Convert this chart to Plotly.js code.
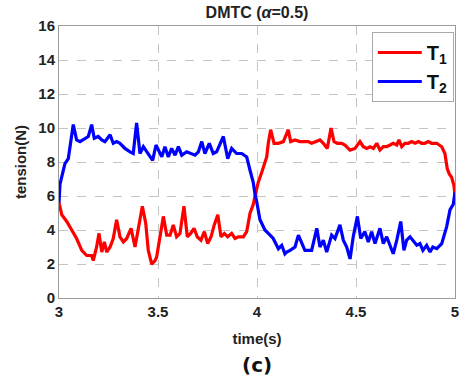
<!DOCTYPE html>
<html>
<head>
<meta charset="utf-8">
<script src="https://cdn.plot.ly/plotly-3.0.1.min.js"></script>
<style>html,body{margin:0;padding:0;background:#fff;}#chart{width:464px;height:376px;}</style>
</head>
<body>
<div id="chart"></div>
<script>
// T1 (red)
const t1Time = [3.000,3.014,3.039,3.064,3.089,3.115,3.140,3.165,3.173,3.190,3.202,3.216,3.229,3.241,3.258,3.274,3.291,3.308,3.325,3.342,3.364,3.384,3.404,3.421,3.438,3.451,3.468,3.485,3.493,3.510,3.527,3.544,3.561,3.577,3.594,3.611,3.631,3.648,3.665,3.682,3.698,3.717,3.734,3.751,3.768,3.784,3.802,3.818,3.835,3.852,3.872,3.889,3.906,3.931,3.948,3.965,3.981,3.990,4.006,4.024,4.049,4.057,4.069,4.086,4.108,4.133,4.158,4.170,4.192,4.217,4.242,4.259,4.276,4.302,4.318,4.335,4.355,4.374,4.389,4.406,4.428,4.444,4.470,4.495,4.520,4.537,4.554,4.571,4.588,4.605,4.621,4.638,4.655,4.672,4.688,4.706,4.717,4.731,4.747,4.764,4.781,4.798,4.815,4.832,4.848,4.865,4.882,4.908,4.933,4.949,4.961,4.971,4.983,4.995,5.000];
const t1Vals = [5.6,4.9,4.5,4.0,3.5,2.8,2.5,2.5,2.2,3.0,3.8,2.7,3.3,2.7,3.0,3.5,4.6,3.6,3.3,3.5,4.1,3.0,4.4,5.4,4.4,2.8,2.0,2.2,2.4,3.6,4.8,3.7,3.7,4.3,3.6,3.8,5.4,3.6,3.8,4.1,3.6,3.4,3.9,3.2,3.6,4.3,4.9,3.6,3.8,3.6,3.8,3.5,3.6,3.6,3.9,5.0,5.5,6.0,6.8,7.4,8.3,9.1,9.9,9.1,9.1,9.2,9.9,9.2,9.3,9.2,9.2,9.2,9.1,9.2,9.3,9.1,8.8,10.0,9.2,9.1,9.1,9.0,8.7,8.8,9.2,8.9,8.8,8.9,8.8,9.1,8.7,8.9,8.9,9.0,9.1,9.0,9.3,8.9,9.1,9.1,9.2,9.1,9.2,9.1,9.1,9.2,9.1,9.1,8.9,8.5,7.6,7.3,7.1,6.6,6.0];
// T2 (blue)
const t2Time = [3.000,3.005,3.030,3.047,3.072,3.089,3.106,3.131,3.148,3.165,3.178,3.198,3.216,3.232,3.258,3.274,3.291,3.308,3.333,3.359,3.375,3.392,3.409,3.426,3.451,3.473,3.490,3.519,3.535,3.552,3.569,3.586,3.603,3.620,3.645,3.662,3.687,3.704,3.721,3.737,3.759,3.779,3.796,3.830,3.852,3.872,3.897,3.923,3.948,3.965,3.981,3.990,3.998,4.015,4.040,4.066,4.082,4.108,4.125,4.141,4.150,4.167,4.192,4.209,4.226,4.242,4.276,4.302,4.318,4.335,4.352,4.377,4.394,4.419,4.436,4.453,4.470,4.486,4.507,4.524,4.545,4.562,4.579,4.596,4.621,4.638,4.655,4.672,4.688,4.706,4.726,4.742,4.756,4.773,4.788,4.807,4.823,4.838,4.857,4.874,4.888,4.908,4.933,4.958,4.975,4.991,5.000];
const t2Vals = [5.6,6.7,7.9,8.2,10.2,9.3,9.2,9.4,9.5,10.2,9.4,9.5,9.3,9.2,9.6,9.1,9.2,9.1,8.8,8.6,8.5,10.3,8.5,8.9,8.5,8.1,9.0,8.3,8.9,8.3,8.8,8.4,8.9,8.4,8.6,8.5,8.4,8.6,9.2,8.5,9.1,8.5,8.6,9.5,8.2,8.8,8.5,8.5,8.3,7.5,6.8,6.1,5.7,4.6,4.0,3.7,3.5,2.9,3.1,2.6,2.7,2.8,3.0,3.7,3.2,2.8,2.8,4.1,3.0,3.4,2.7,3.7,3.5,4.3,3.4,3.0,2.3,3.6,4.8,3.5,3.9,3.3,3.9,3.2,4.1,3.2,3.6,3.1,2.6,3.4,4.5,2.8,3.4,3.6,3.4,3.1,3.2,2.8,3.1,2.7,3.0,2.9,3.2,4.2,5.2,5.5,6.2];
const seriesNames = ['T<sub>1</sub>','T<sub>2</sub>'];
const xTicks = [3,3.5,4,4.5,5];
const xTickText = ['3','3.5','4','4.5','5'];
const yTicks = [0,2,4,6,8,10,12,14,16];

const FONT = 'Liberation Sans, Arial, sans-serif';
const traces = [
  {x:t1Time, y:t1Vals, name:seriesNames[0], type:'scatter', mode:'lines', line:{color:'#ff0000', width:3.2}},
  {x:t2Time, y:t2Vals, name:seriesNames[1], type:'scatter', mode:'lines', line:{color:'#0000ff', width:3.2}}
];
const axisCommon = {
  showline:true, mirror:true, linecolor:'#9a9a9a', linewidth:1,
  showgrid:true, gridcolor:'#c4c4c4', griddash:'dash', gridwidth:1,
  zeroline:false, ticks:'',
  tickfont:{family:FONT, size:15, color:'#222', weight:'bold'}
};
const layout = {
  width:464, height:376,
  margin:{l:59, r:9, t:26, b:78},
  paper_bgcolor:'#fff', plot_bgcolor:'#fff',
  title:{text:'DMTC (<i>α</i>=0.5)', font:{family:FONT, size:16, color:'#222', weight:'bold'}, x:0.5, xanchor:'center', xref:'paper', y:0.967, yanchor:'middle', yref:'container'},
  xaxis:Object.assign({}, axisCommon, {range:[3,5], tickvals:xTicks, ticktext:xTickText,
    title:{text:'time(s)', font:{family:FONT, size:15, color:'#222', weight:'bold'}, standoff:14}}),
  yaxis:Object.assign({}, axisCommon, {range:[0,16], tickvals:yTicks,
    title:{text:'tension(N)', font:{family:FONT, size:15, color:'#222', weight:'bold'}, standoff:8}}),
  showlegend:true,
  legend:{x:0.997, xanchor:'right', y:0.978, yanchor:'top', bgcolor:'#fff', bordercolor:'#aaa', borderwidth:1,
    font:{family:FONT, size:20, color:'#111', weight:'bold'}, itemwidth:44, tracegroupgap:0},
  annotations:[{text:'(c)', xref:'paper', yref:'paper', x:0.5, y:-0.245, xanchor:'center', yanchor:'middle', showarrow:false,
    font:{family:'DejaVu Sans, sans-serif', size:20, color:'#111', weight:'bold'}}]
};
Plotly.newPlot('chart', traces, layout, {displayModeBar:false, staticPlot:true});
</script>
</body>
</html>
